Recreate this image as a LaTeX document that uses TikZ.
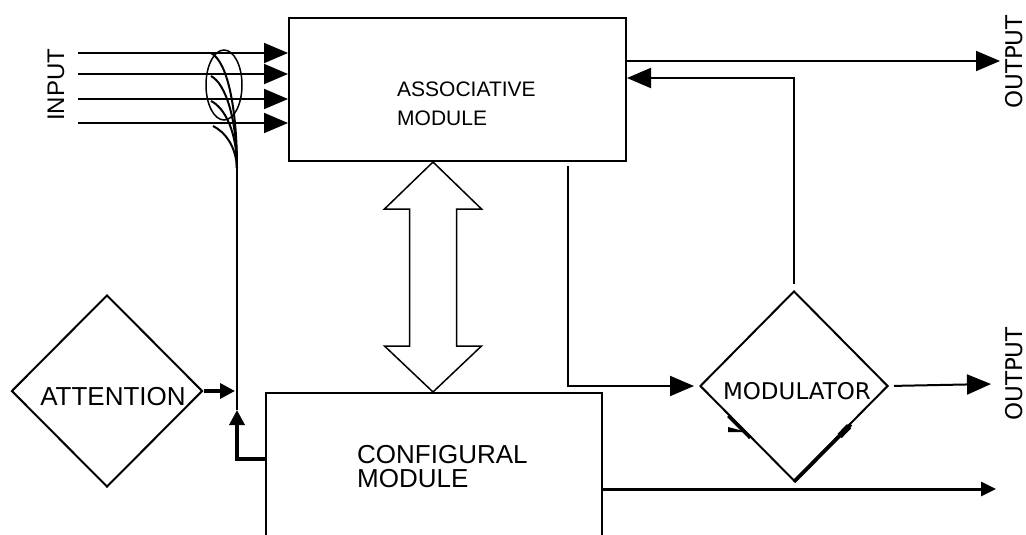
\documentclass[tikz,border=0pt]{standalone}
\usepackage{fontspec}
\setmainfont{Liberation Sans}
\newfontfamily\djv{DejaVu Sans}
\usetikzlibrary{arrows.meta,shapes.geometric,calc}
\begin{document}
\begin{tikzpicture}[x=1pt,y=-1pt,
  box/.style={draw,line width=2pt,inner sep=0pt},
  diam/.style={draw,diamond,line width=2pt,inner sep=0pt},
  conn/.style={line width=2pt,-{Triangle[length=24pt,width=20pt]}},
  plain/.style={line width=2pt},
  heavy/.style={line width=3.5pt,-{Triangle[length=15pt,width=15pt]}},
  lbl/.style={font=\fontsize{26}{30}\selectfont,inner sep=0pt},
  albl/.style={font=\fontsize{21}{25}\selectfont,inner sep=0pt},
  dlbl/.style={font=\djv\fontsize{23}{27}\selectfont,inner sep=0pt},
  dblarrow/.style={draw,line width=1.5pt,fill=white}
]
\useasboundingbox (0,0) rectangle (1026,535);
\clip (0,0) rectangle (1026,535);

% modules
\node[box,minimum width=337pt,minimum height=143pt] (assoc) at (457.5,89.5) {};
\node[albl,anchor=base west] at (397,96) {ASSOCIATIVE};
\node[albl,anchor=base west] at (397,125) {MODULE};

\node[box,minimum width=336pt,minimum height=170pt] (config) at (434,478) {};
\node[lbl,anchor=base west] at (357,463) {CONFIGURAL};
\node[lbl,anchor=base west] at (357,487) {MODULE};

\node[diam,minimum width=191pt,minimum height=192pt] (att) at (107,391) {};
\node[lbl] at (113,397) {ATTENTION};

\node[diam,minimum width=188pt,minimum height=190pt] (mod) at (794,386) {};
\node[dlbl] at (797,391) {MODULATOR};

% labels
\node[lbl,font=\fontsize{24}{28}\selectfont,rotate=90] (inlbl) at (56,85) {INPUT};
\node[dlbl,rotate=90] (out1lbl) at (1014,62) {OUTPUT};
\node[dlbl,rotate=90] (out2lbl) at (1014,374) {OUTPUT};

% inputs
\coordinate (in1) at (78,53);
\coordinate (in2) at (78,74);
\coordinate (in3) at (78,99);
\coordinate (in4) at (78,123);
\foreach \i in {1,2,3,4} {\draw[conn] (in\i) -- (in\i -| assoc.west);}

% attention bundle
\draw[line width=1.5pt] (224,85) ellipse [x radius=18pt, y radius=35pt];
\coordinate (join) at (237,168);
\coordinate (jtip) at (237,410);
\draw[plain] (211,53) .. controls (228,62) and (237,110) .. (join);
\draw[plain] (211,76) .. controls (226,84) and (237,120) .. (join);
\draw[plain] (211,101) .. controls (225,108) and (237,132) .. (join);
\draw[plain] (213,126) .. controls (225,132) and (236,146) .. (join);
\draw[plain] (join) -- (jtip);

% attention into bundle
\coordinate (atip) at (235,391);
\draw[heavy] (att.east) -- (atip);
% configural into bundle
\draw[heavy] (config.west |- 0,459) -| (jtip);

% outputs
\coordinate (out1) at (1000,61);
\draw[conn] (assoc.east |- out1) -- (out1);

\coordinate (fb) at (794,284);
\coordinate (fbt) at (794,78);
\draw[conn] (fb) -- (fbt) -- (fbt -| assoc.east);

\coordinate (a2) at (568,166);
\draw[conn,shorten >=5pt] (a2) |- (mod.west);

\coordinate (out2) at (991,384);
\draw[conn,shorten <=5pt] (mod.east) -- (out2);

\coordinate (out3) at (996,489);
\draw[line width=3pt,-{Triangle[length=15pt,width=14pt]}] (config.east |- out3) -- (out3);

% double arrow between modules
\path (assoc.south -| 433,0) coordinate (dt) (config.north -| 433,0) coordinate (db);
\draw[dblarrow] (dt) -- ($(dt)+(48.5,47)$) -- ($(dt)+(23.5,47)$) -- ($(db)+(23.5,-46)$)
  -- ($(db)+(48.5,-46)$) -- (db) -- ($(db)+(-48.5,-46)$) -- ($(db)+(-23.5,-46)$)
  -- ($(dt)+(-23.5,47)$) -- ($(dt)+(-48.5,47)$) -- cycle;

% stray marks on modulator
\draw[line width=3.5pt] ($(mod.west)!0.31!(mod.south)$) -- ($(mod.west)!0.54!(mod.south)$);
\fill (728,427) -- (747,432) -- (728,432) -- cycle;
\draw[line width=3.5pt] (mod.south) -- ($(mod.south)!0.6!(mod.east)$);
\draw[line width=6pt] ($(mod.south)!0.48!(mod.east)$) -- ($(mod.south)!0.58!(mod.east)$);
\end{tikzpicture}
\end{document}
